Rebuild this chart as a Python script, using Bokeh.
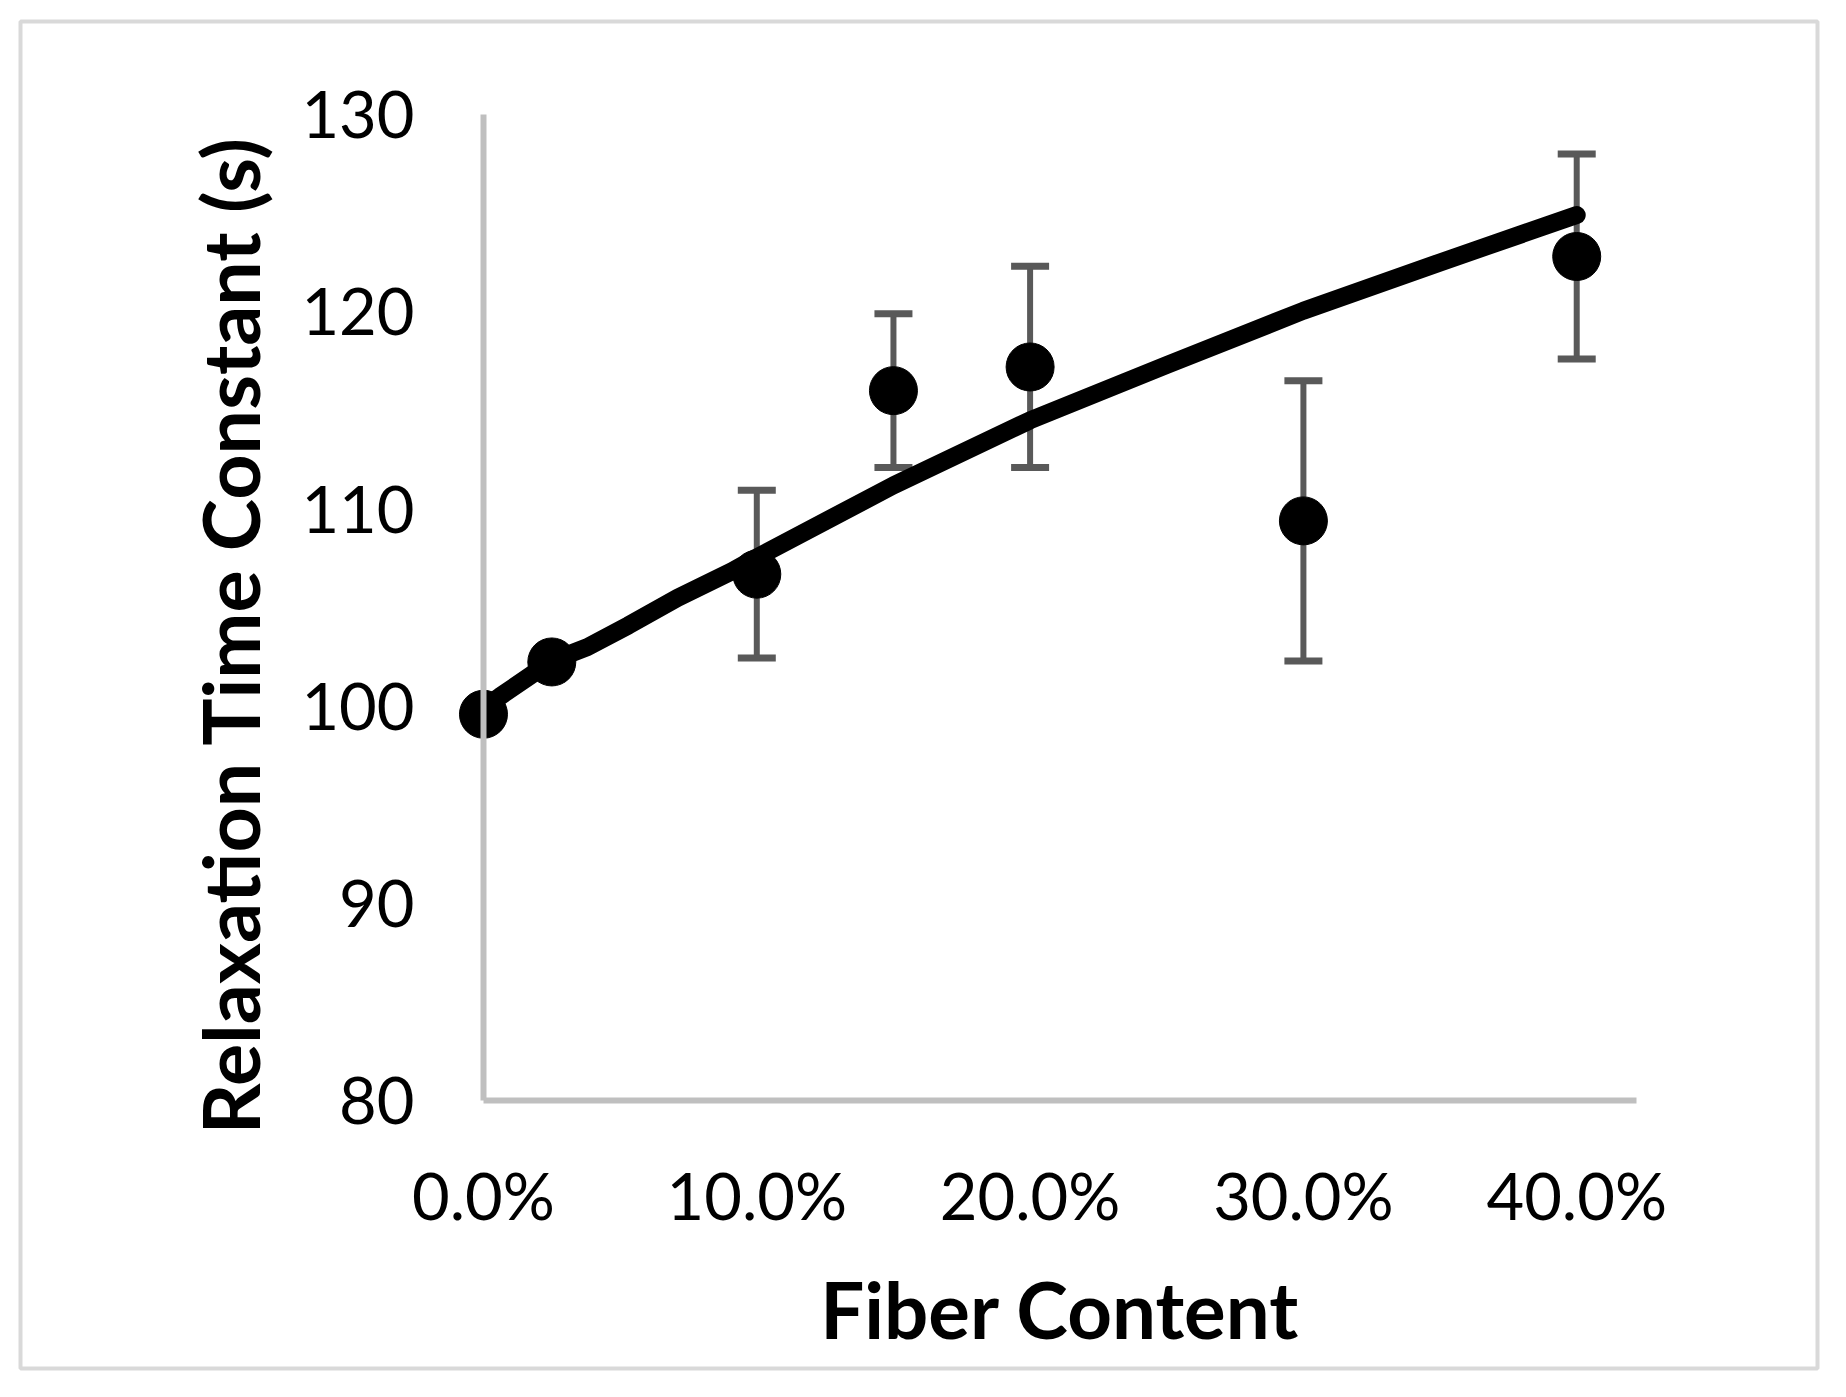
from bokeh.plotting import figure
from bokeh.models import (Range1d, FixedTicker, NumeralTickFormatter, ColumnDataSource,
                          Whisker, TeeHead, LinearAxis)
from bokeh.embed import file_html
from bokeh.resources import INLINE

# measured data (fiber content as fraction, relaxation time constant in s)
fiber = [0.0, 0.025, 0.10, 0.15, 0.20, 0.30, 0.40]
tau = [99.6, 102.25, 106.7, 116.0, 117.2, 109.4, 122.8]
tau_err = [0.0, 0.0, 4.25, 3.9, 5.1, 7.1, 5.2]

# model curve
model_fiber = [0.0, 0.006, 0.025, 0.038, 0.053, 0.071, 0.091, 0.10,
               0.15, 0.20, 0.25, 0.30, 0.35, 0.40]
model_tau = [99.9, 100.5, 102.3, 103.0, 104.1, 105.5, 106.85, 107.55,
             111.2, 114.5, 117.3, 120.05, 122.5, 124.9]

x_ticks = [0.0, 0.1, 0.2, 0.3, 0.4]
y_ticks = [80, 90, 100, 110, 120, 130]
x_axis_span = (0.0, 0.422)
y_axis_span = (80, 130)

W, H = 1830, 1381
# the frame is the whole chart area; its outline is the light grey chart border
p = figure(width=W, height=H, output_backend="svg", toolbar_location=None,
           x_range=Range1d(-0.1694, 0.4881), y_range=Range1d(66.44, 134.71),
           min_border_left=20, min_border_right=13,
           min_border_top=21, min_border_bottom=13)
p.background_fill_color = "white"
p.border_fill_color = "white"
p.outline_line_color = "#d9d9d9"
p.outline_line_width = 4
p.grid.visible = False

AX_COL = "#bfbfbf"
xax = p.xaxis[0]
yax = p.yaxis[0]
for ax in (xax, yax):
    ax.axis_line_color = AX_COL
    ax.axis_line_width = 6
    ax.major_tick_line_color = None
    ax.minor_tick_line_color = None
    ax.major_tick_in = 0
    ax.major_tick_out = 0
    ax.minor_tick_in = 0
    ax.minor_tick_out = 0
    ax.major_label_text_font = "Lato"
    ax.major_label_text_font_size = "65px"
    ax.major_label_text_color = "black"
    ax.axis_label_text_font = "Lato"
    ax.axis_label_text_font_style = "bold"
    ax.axis_label_text_color = "black"

xax.ticker = FixedTicker(ticks=x_ticks)
xax.formatter = NumeralTickFormatter(format="0.0%")
xax.fixed_location = y_axis_span[0]
xax.bounds = x_axis_span
xax.axis_label = "Fiber Content"
xax.axis_label_text_font_size = "78px"
xax.major_label_standoff = 55
xax.axis_label_standoff = 25

yax.ticker = FixedTicker(ticks=y_ticks)
yax.fixed_location = x_axis_span[0]
yax.bounds = y_axis_span
yax.major_label_standoff = 69

# y-axis title carried by a line-less companion axis, placed like the original title
ytitle = LinearAxis(fixed_location=x_axis_span[0], bounds=(77.26, 130),
                    ticker=FixedTicker(ticks=[], minor_ticks=[]),
                    axis_line_color=None, major_tick_line_color=None,
                    minor_tick_line_color=None, major_tick_in=0, major_tick_out=0,
                    minor_tick_in=0, minor_tick_out=0, major_label_standoff=0,
                    axis_label="Relaxation Time Constant (s)",
                    axis_label_text_font="Lato", axis_label_text_font_style="bold",
                    axis_label_text_font_size="79px", axis_label_text_color="black",
                    axis_label_standoff=207)
p.add_layout(ytitle, "left")

# error bars
idx = [i for i, e in enumerate(tau_err) if e > 0]
err_src = ColumnDataSource(data=dict(
    x=[fiber[i] for i in idx],
    upper=[tau[i] + tau_err[i] for i in idx],
    lower=[tau[i] - tau_err[i] for i in idx],
))
EB = "#595959"
wh = Whisker(base="x", upper="upper", lower="lower", source=err_src,
             line_color=EB, line_width=6,
             upper_head=TeeHead(size=38, line_color=EB, line_width=7),
             lower_head=TeeHead(size=38, line_color=EB, line_width=7))
p.add_layout(wh)

# model line
p.line(model_fiber, model_tau, line_color="black", line_width=18,
       line_join="round", line_cap="round")

# measured points
p.scatter(fiber, tau, size=48, marker="circle", fill_color="black", line_color="black")

open("out.html", "w").write(file_html(p, INLINE))
